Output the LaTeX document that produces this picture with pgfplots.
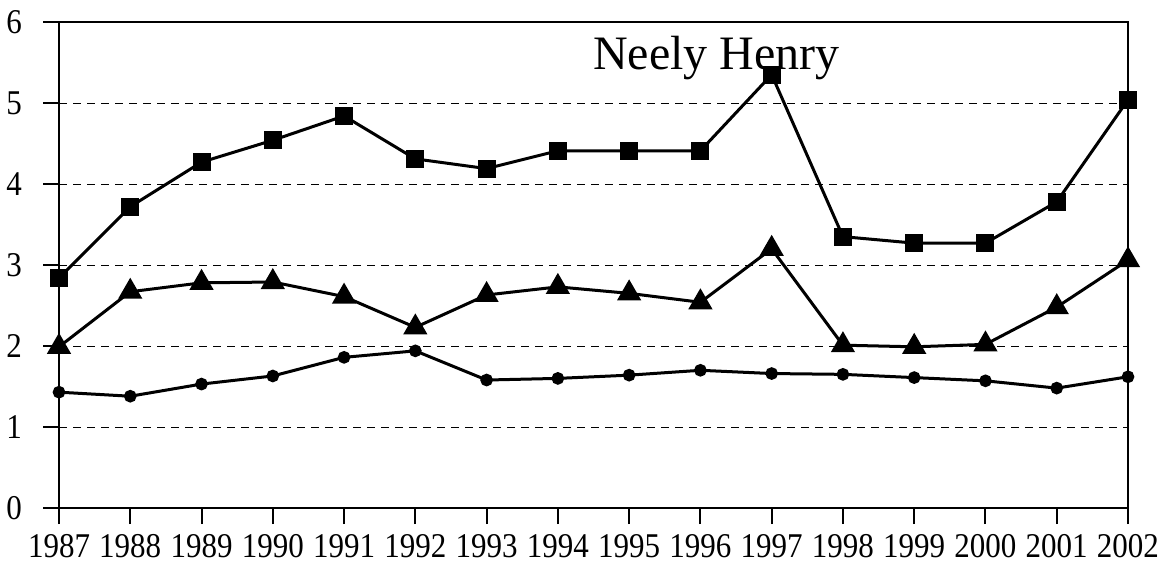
\documentclass[border=0pt]{standalone}
\usepackage{pgfplots}
\pgfplotsset{compat=1.18}
\usepackage{fontspec}
\setmainfont{Liberation Serif}
\begin{document}
\begin{tikzpicture}
\path[use as bounding box] (-29.5bp,-31.5bp) rectangle (557bp,254bp);
\begin{axis}[
  at={(0,0)}, anchor=south west,
  scale only axis, width=534.5bp, height=243bp,
  xmin=1987, xmax=2002, ymin=0, ymax=6,
  xtick={1987,...,2002}, ytick={0,1,...,6},
  xtick pos=bottom, ytick pos=left,
  xticklabel style={/pgf/number format/1000 sep=, font=\fontsize{15.5bp}{18bp}\selectfont, yshift=-1.5bp, yscale=1.12},
  yticklabel style={font=\fontsize{15.5bp}{18bp}\selectfont, xshift=-7bp, yscale=1.12},
  /pgf/number format/assume math mode=true,
  tick align=outside, major tick length=8bp,
  major tick style={black, line width=1bp},
  axis line style={line width=1.4bp},
  ymajorgrids, major grid style={black, line width=0.5bp, dash pattern=on 4bp off 3bp},
  clip=false,
]
\addplot[black, line width=1.5bp, mark=square*, mark size=3.75bp] coordinates {
(1987,2.84) (1988,3.72) (1989,4.27) (1990,4.54) (1991,4.84) (1992,4.31) (1993,4.19) (1994,4.41)
(1995,4.41) (1996,4.41) (1997,5.35) (1998,3.35) (1999,3.27) (2000,3.27) (2001,3.78) (2002,5.04)};
\addplot[black, line width=1.5bp, mark=triangle*, mark size=5.5bp] coordinates {
(1987,1.99) (1988,2.67) (1989,2.78) (1990,2.79) (1991,2.61) (1992,2.23) (1993,2.63) (1994,2.73)
(1995,2.65) (1996,2.54) (1997,3.2) (1998,2.01) (1999,1.99) (2000,2.02) (2001,2.48) (2002,3.06)};
\addplot[black, line width=1.5bp, mark=*, mark size=2.4bp] coordinates {
(1987,1.43) (1988,1.38) (1989,1.53) (1990,1.63) (1991,1.86) (1992,1.94) (1993,1.58) (1994,1.6)
(1995,1.64) (1996,1.70) (1997,1.66) (1998,1.65) (1999,1.61) (2000,1.57) (2001,1.48) (2002,1.62)};
\node[font=\fontsize{24bp}{28bp}\selectfont] at (rel axis cs:0.615,0.925) {Neely Henry};
\end{axis}
\end{tikzpicture}
\end{document}
